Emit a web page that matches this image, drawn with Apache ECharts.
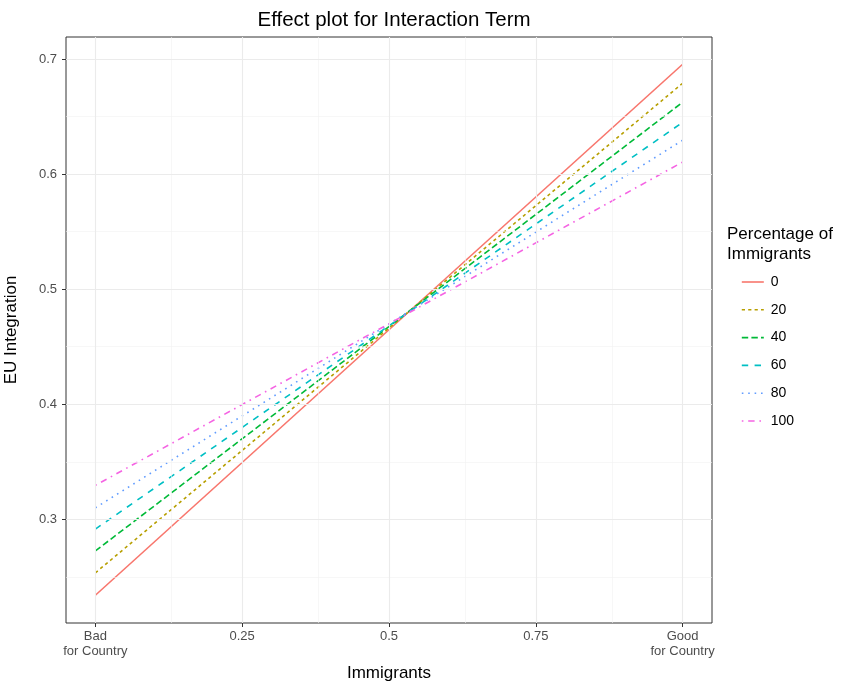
<!DOCTYPE html>
<html>
<head>
<meta charset="utf-8">
<script src="https://cdn.jsdelivr.net/npm/echarts@6/dist/echarts.min.js"></script>
<style>
  html, body { margin: 0; padding: 0; background: #fff; }
  #chart { width: 855px; height: 684px; }
</style>
</head>
<body>
<div id="chart"></div>
<script>
// Effect of attitude towards immigrants on EU integration, by percentage of immigrants
const levels = ['0', '20', '40', '60', '80', '100'];
const xPoints = [0, 1];
const valuesAtBad = [0.234, 0.2535, 0.2725, 0.2915, 0.310, 0.3295];
const valuesAtGood = [0.6955, 0.679, 0.6625, 0.645, 0.6295, 0.6105];
const colors = ['#F8766D', '#B79F00', '#00BA38', '#00BFC4', '#619CFF', '#F564E3'];

const xTicks = [0, 0.25, 0.5, 0.75, 1];
const xTickLabels = ['Bad\nfor Country', '0.25', '0.5', '0.75', 'Good\nfor Country'];
const xMinor = [0.125, 0.375, 0.625, 0.875];
const yTicks = [0.3, 0.4, 0.5, 0.6, 0.7];
const yMinor = [0.25, 0.35, 0.45, 0.55, 0.65];

const lw = 1.6;
const dashes = [
  'solid',
  [2 * lw, 2 * lw],
  [4 * lw, 2 * lw],
  [4 * lw, 4 * lw],
  [1 * lw, 3 * lw],
  [1 * lw, 3 * lw, 4 * lw, 3 * lw]
];

const X_MIN = -0.05, X_MAX = 1.05, Y_MIN = 0.2099, Y_MAX = 0.7192;

// Panel grid lines (major and minor), drawn beneath the data
const gridLines = [];
const minorStyle = { color: '#f2f2f2', width: 0.6, type: 'solid' };
const majorStyle = { color: '#ebebeb', width: 1.1, type: 'solid' };
xMinor.forEach(v => gridLines.push({ xAxis: v, lineStyle: minorStyle }));
yMinor.forEach(v => gridLines.push({ yAxis: v, lineStyle: minorStyle }));
xTicks.forEach(v => gridLines.push({ xAxis: v, lineStyle: majorStyle }));
yTicks.forEach(v => gridLines.push({ yAxis: v, lineStyle: majorStyle }));

const series = [{
  type: 'line',
  name: '__grid',
  data: [],
  z: 1,
  silent: true,
  markLine: {
    silent: true,
    symbol: ['none', 'none'],
    label: { show: false },
    emphasis: { disabled: true },
    animation: false,
    lineStyle: { type: 'solid' },
    data: gridLines
  }
}];

levels.forEach((lv, i) => {
  series.push({
    type: 'line',
    name: lv,
    z: 3,
    showSymbol: false,
    symbol: 'none',
    color: colors[i],
    lineStyle: { color: colors[i], width: lw, type: dashes[i] },
    data: [[xPoints[0], valuesAtBad[i]], [xPoints[1], valuesAtGood[i]]]
  });
});

const font = 'Arial, Liberation Sans';
const chart = echarts.init(document.getElementById('chart'), null, { renderer: 'canvas' });
chart.setOption({
  animation: false,
  backgroundColor: '#ffffff',
  title: {
    text: 'Effect plot for Interaction Term',
    left: 389,
    top: 5,
    textAlign: 'center',
    textStyle: { fontFamily: font, fontSize: 20.5, fontWeight: 'normal', color: '#000' }
  },
  legend: {
    data: levels,
    orient: 'vertical',
    left: 736,
    top: 270,
    itemWidth: 22,
    itemHeight: 14,
    itemGap: 13.8,
    itemStyle: { opacity: 0 },
    lineStyle: { width: lw },
    textStyle: { fontFamily: font, fontSize: 14, color: '#000', padding: [0, 0, 0, 2] },
    selectedMode: false
  },
  graphic: [{
    type: 'text',
    left: 727,
    top: 224,
    style: {
      text: 'Percentage of\nImmigrants',
      fontFamily: font,
      fontSize: 17,
      lineHeight: 20,
      fill: '#000'
    }
  }],
  grid: {
    left: 66, right: 143, top: 37, bottom: 61,
    outerBoundsMode: 'none',
    containLabel: false,
    show: true, borderColor: '#333333', borderWidth: 1, backgroundColor: 'transparent', z: 4
  },
  xAxis: {
    type: 'value',
    min: X_MIN, max: X_MAX,
    name: 'Immigrants',
    nameLocation: 'middle',
    nameGap: 42,
    nameTextStyle: { fontFamily: font, fontSize: 17, color: '#000' },
    axisLine: { show: false, onZero: false },
    axisTick: { show: true, length: 4, lineStyle: { color: '#333', width: 1 }, customValues: xTicks },
    axisLabel: {
      customValues: xTicks,
      formatter: v => xTickLabels[xTicks.indexOf(+v.toFixed(3))] ?? '',
      fontFamily: font, fontSize: 13, color: '#4d4d4d', lineHeight: 15, margin: 6
    },
    splitLine: { show: false }
  },
  yAxis: {
    type: 'value',
    min: Y_MIN, max: Y_MAX,
    name: 'EU Integration',
    nameLocation: 'middle',
    nameGap: 46,
    nameTextStyle: { fontFamily: font, fontSize: 17, color: '#000' },
    axisLine: { show: false, onZero: false },
    axisTick: { show: true, length: 4, lineStyle: { color: '#333', width: 1 }, customValues: yTicks },
    axisLabel: {
      customValues: yTicks,
      formatter: v => String(+v.toFixed(2)),
      fontFamily: font, fontSize: 13, color: '#4d4d4d', margin: 9
    },
    splitLine: { show: false }
  },
  series: series
});
</script>
</body>
</html>
